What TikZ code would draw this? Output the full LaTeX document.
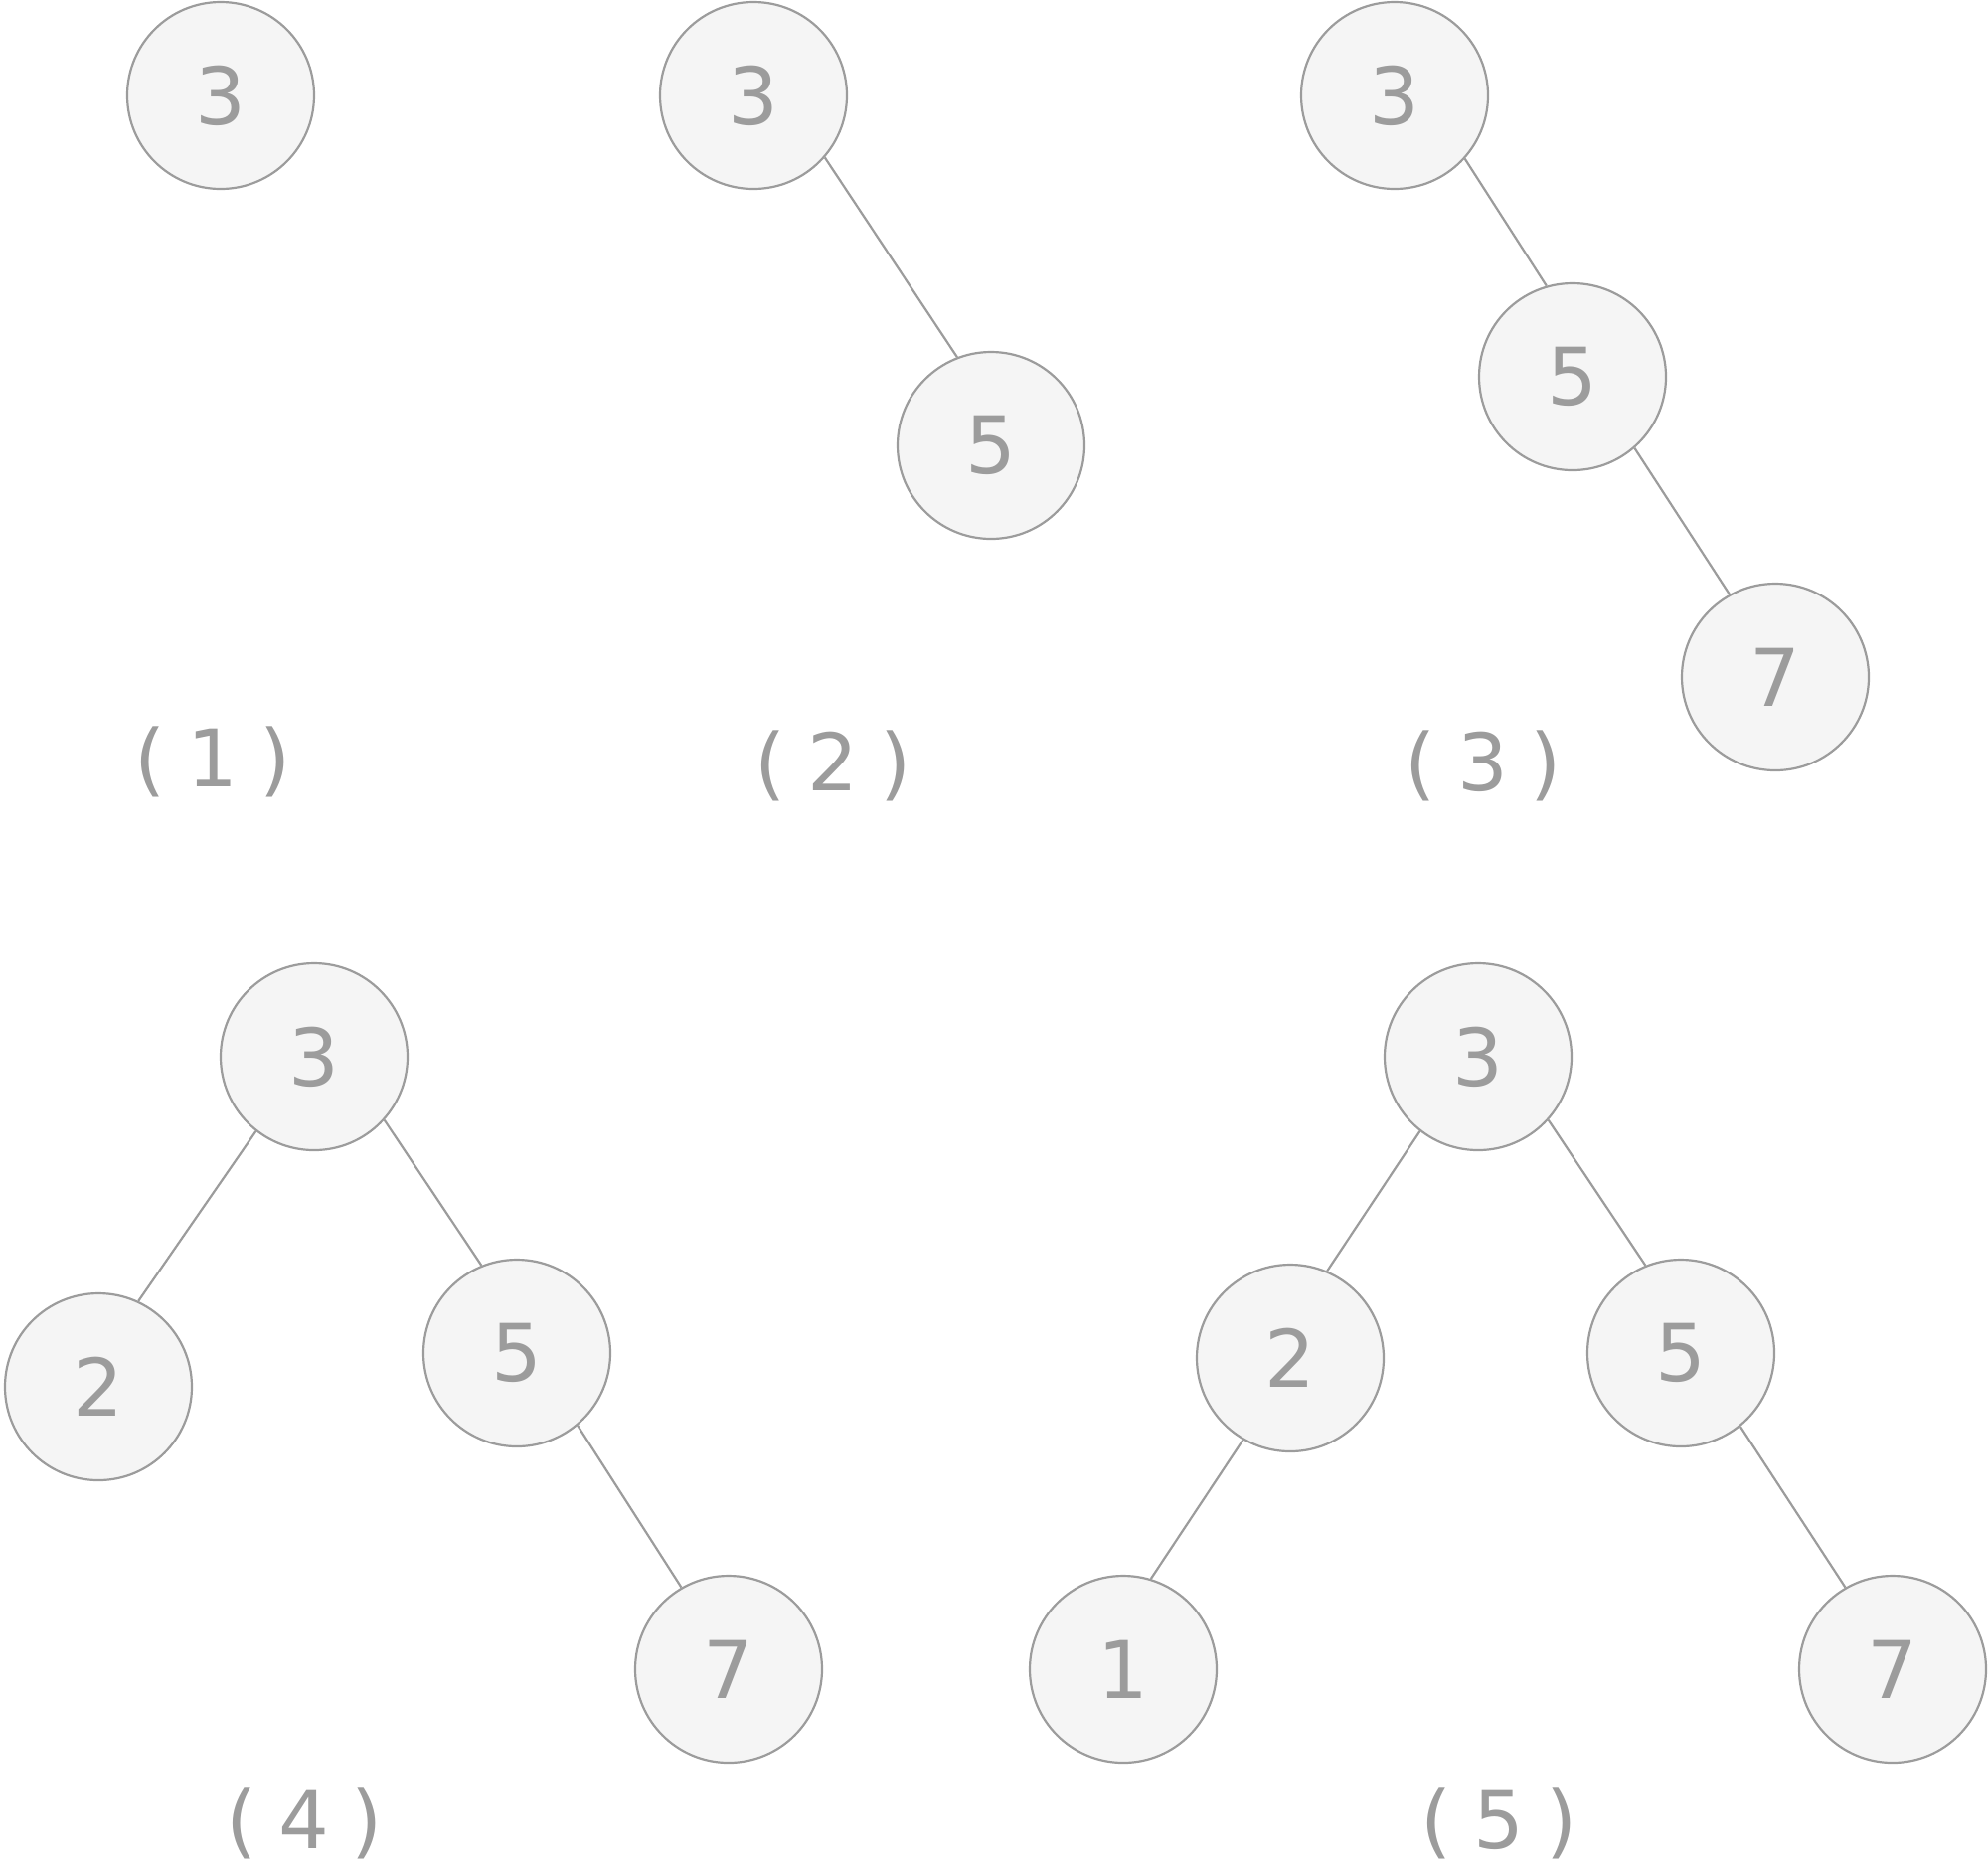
\documentclass[tikz,border=0pt]{standalone}
\usepackage{fontspec}
\setmainfont{DejaVu Sans}
\definecolor{cgray}{HTML}{9C9C9C}
\definecolor{cfill}{HTML}{F5F5F5}
\begin{document}
\begin{tikzpicture}[x=0.5pt,y=-0.5pt,
  tnode/.style={circle,draw=cgray,fill=cfill,line width=1.1pt,minimum size=94pt,inner sep=0pt,text=cgray,font=\fontsize{40}{44}\selectfont},
  lbl/.style={text=cgray,font=\fontsize{40}{44}\selectfont,inner sep=0pt},
  edge/.style={draw=cgray,line width=1.1pt}]
\newcommand{\lab}[1]{(\hspace{11pt}#1\hspace{11pt})}
\useasboundingbox (0,0) rectangle (2000,1876);
% tree 1
\node[tnode] (a3) at (222,96) {3};
\node[lbl] (l1) at (214,766) {\lab{1}};
% tree 2
\node[tnode] (b3) at (758,96) {3};
\node[tnode] (b5) at (997,448) {5};
\draw[edge] (b3.-41) -- (b5.111);
\node[lbl] (l2) at (838,770) {\lab{2}};
% tree 3
\node[tnode] (c3) at (1403,96) {3};
\node[tnode] (c5) at (1582,379) {5};
\node[tnode] (c7) at (1786,681) {7};
\draw[edge] (c3.-42) -- (c5.106);
\draw[edge] (c5.-49) -- (c7.119);
\node[lbl] (l3) at (1492,770) {\lab{3}};
% tree 4
\node[tnode] (d3) at (316,1063) {3};
\node[tnode] (d2) at (99,1395) {2};
\node[tnode] (d5) at (520,1361) {5};
\node[tnode] (d7) at (733,1679) {7};
\draw[edge] (d3.232) -- (d2.65);
\draw[edge] (d3.-42) -- (d5.112);
\draw[edge] (d5.-50) -- (d7.120);
\node[lbl] (l4) at (306,1834) {\lab{4}};
% tree 5
\node[tnode] (e3) at (1487,1063) {3};
\node[tnode] (e2) at (1298,1366) {2};
\node[tnode] (e5) at (1691,1361) {5};
\node[tnode] (e1) at (1130,1679) {1};
\node[tnode] (e7) at (1904,1679) {7};
\draw[edge] (e3.232) -- (e2.67);
\draw[edge] (e3.-42) -- (e5.112);
\draw[edge] (e2.240) -- (e1.73);
\draw[edge] (e5.-51) -- (e7.120);
\node[lbl] (l5) at (1508,1834) {\lab{5}};
\end{tikzpicture}
\end{document}
